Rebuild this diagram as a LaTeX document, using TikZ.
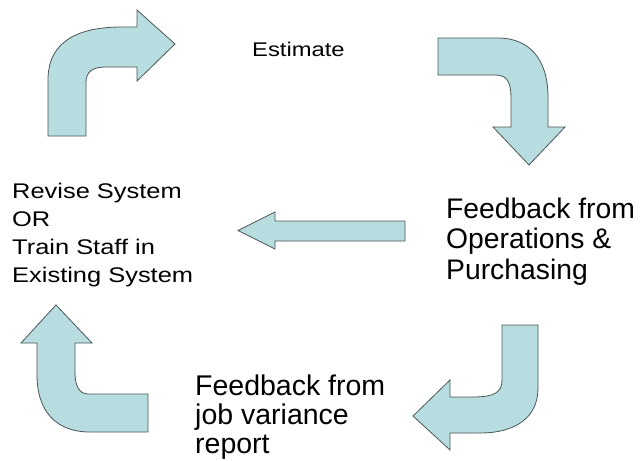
\documentclass[tikz,border=0pt]{standalone}
\usepackage{fontspec}
\setmainfont{Liberation Sans}
\newfontfamily\widesans[FakeStretch=1.2]{Liberation Sans}
\definecolor{cyclefill}{HTML}{B8DDE1}
\definecolor{cycleline}{HTML}{4A5656}
\tikzset{
  barrow/.style={fill=cyclefill, draw=cycleline, line width=0.8pt, line join=miter},
  lbl/.style={anchor=base west, align=left, inner sep=0pt},
}
\begin{document}
\begin{tikzpicture}[x=1pt, y=-1pt]
  \useasboundingbox (0,0) rectangle (641,461);
  % bent block arrows round the cycle
  \draw[barrow] (48,136) -- (48,80) .. controls (48,40) and (80,27) .. (122,27) -- (137,27) -- (137,10) -- (175,44)
    -- (137,81) -- (137,67) -- (105,67) .. controls (93,67) and (86,72) .. (86,82) -- (86,136) -- cycle;
  \draw[barrow] (438,38) -- (498,38) .. controls (530,38) and (548,60) .. (548,97) -- (548,127) -- (565,127) -- (529,165)
    -- (493,127) -- (511,127) -- (511,97) .. controls (511,83) and (507,75) .. (496,75) -- (438,75) -- cycle;
  \draw[barrow] (148,394) -- (88,394) .. controls (79,394) and (75,385) .. (75,373) -- (75,343) -- (92,343) -- (56,305)
    -- (21,343) -- (37,343) -- (37,375) .. controls (37,410) and (55,432) .. (90,432) -- (148,432) -- cycle;
  \draw[barrow] (502,325) -- (538,325) -- (538,388) .. controls (538,418) and (515,433) .. (480,433) -- (450,433)
    -- (450,450) -- (413,416) -- (450,380) -- (450,397) -- (473,397) .. controls (495,397) and (502,392) .. (502,380) -- cycle;
  % straight one in the middle
  \draw[barrow] (405,221) -- (275,221) -- (275,212) -- (238,230.5) -- (275,249) -- (275,241) -- (405,241) -- cycle;
  % labels (base = last line)
  \node[lbl, font=\widesans\fontsize{19.8}{24}\selectfont] (est) at (252,56) {Estimate};
  \node[lbl, font=\widesans\fontsize{21.2}{28}\selectfont] (revise) at (12,282) {Revise System\\OR\\Train Staff in\\Existing System};
  \node[lbl, font=\fontsize{28.3}{30.5}\selectfont] (ops) at (446,279) {Feedback from\\Operations \&\\Purchasing};
  \node[lbl, font=\fontsize{28.5}{29}\selectfont] (job) at (195,453) {Feedback from\\job variance\\report};
\end{tikzpicture}
\end{document}
